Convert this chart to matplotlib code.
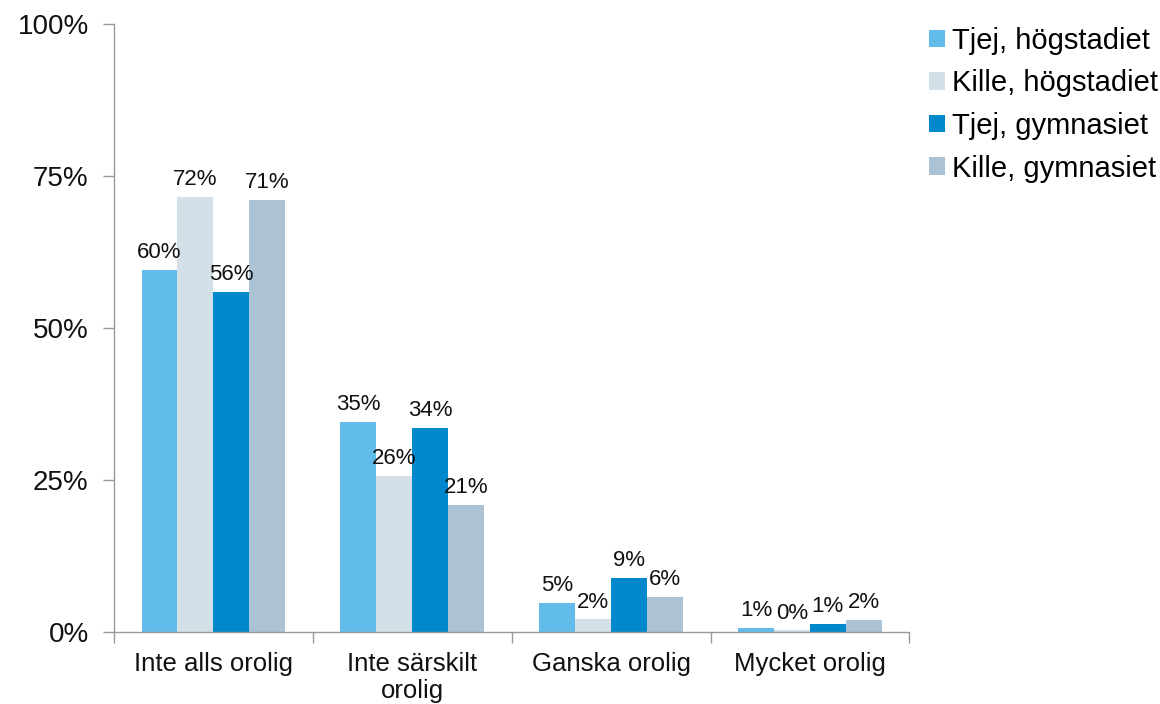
import matplotlib
matplotlib.use("Agg")
import matplotlib.pyplot as plt
from matplotlib.patches import Patch
import numpy as np

plt.rcParams['font.family'] = ['Liberation Sans', 'DejaVu Sans']

categories = ["Inte alls orolig", "Inte särskilt\norolig", "Ganska orolig", "Mycket orolig"]
series_names = ["Tjej, högstadiet", "Kille, högstadiet", "Tjej, gymnasiet", "Kille, gymnasiet"]
tjej_hog = [59.6, 34.6, 4.8, 0.7]
kille_hog = [71.6, 25.7, 2.1, 0.3]
tjej_gym = [55.9, 33.6, 8.9, 1.4]
kille_gym = [71.1, 20.9, 5.8, 2.0]
yticks = [0, 25, 50, 75, 100]
ytick_labels = ["0%", "25%", "50%", "75%", "100%"]

series = [tjej_hog, kille_hog, tjej_gym, kille_gym]
colors = ["#62BCE9", "#D3E0E7", "#0088CC", "#ABC3D5"]

fig = plt.figure(figsize=(11.6, 7.04), dpi=100)
ax = fig.add_axes([0.098, 0.102, 0.686, 0.864])

x = np.arange(len(categories))
bw = 0.18
for i, (vals, c) in enumerate(zip(series, colors)):
    pos = x + (i - 1.5) * bw
    ax.bar(pos, vals, width=bw, color=c, edgecolor='none', zorder=2)
    for p, v in zip(pos, vals):
        ax.text(p, v + 1.1, f"{v:.0f}%", ha='center', va='bottom', fontsize=16, color='#111111')

ax.set_xlim(-0.5, len(categories) - 0.5)
ax.set_ylim(0, 100)
ax.set_yticks(yticks)
ax.set_yticklabels(ytick_labels, fontsize=20, color='#111111')
ax.set_xticks(x)
ax.set_xticklabels(categories, fontsize=18.5, linespacing=1.2, color='#111111')
ax.tick_params(axis='x', length=0, pad=14)
ax.set_xticks(np.arange(len(categories) + 1) - 0.5, minor=True)
ax.tick_params(axis='x', which='minor', length=8, color='#999999', width=1)
ax.tick_params(axis='y', length=8, color='#999999', width=1, pad=10)

for s in ['top', 'right']:
    ax.spines[s].set_visible(False)
for s in ['left', 'bottom']:
    ax.spines[s].set_color('#999999')
    ax.spines[s].set_linewidth(1)

handles = [Patch(facecolor=c, edgecolor='none') for c in colors]
fig.legend(handles, series_names, loc='upper left', bbox_to_anchor=(0.801, 0.962),
           frameon=False, fontsize=21, handlelength=0.55, handleheight=0.55,
           handletextpad=0.25, labelspacing=0.5, borderaxespad=0, borderpad=0)

fig.savefig("out.png", dpi=100)
